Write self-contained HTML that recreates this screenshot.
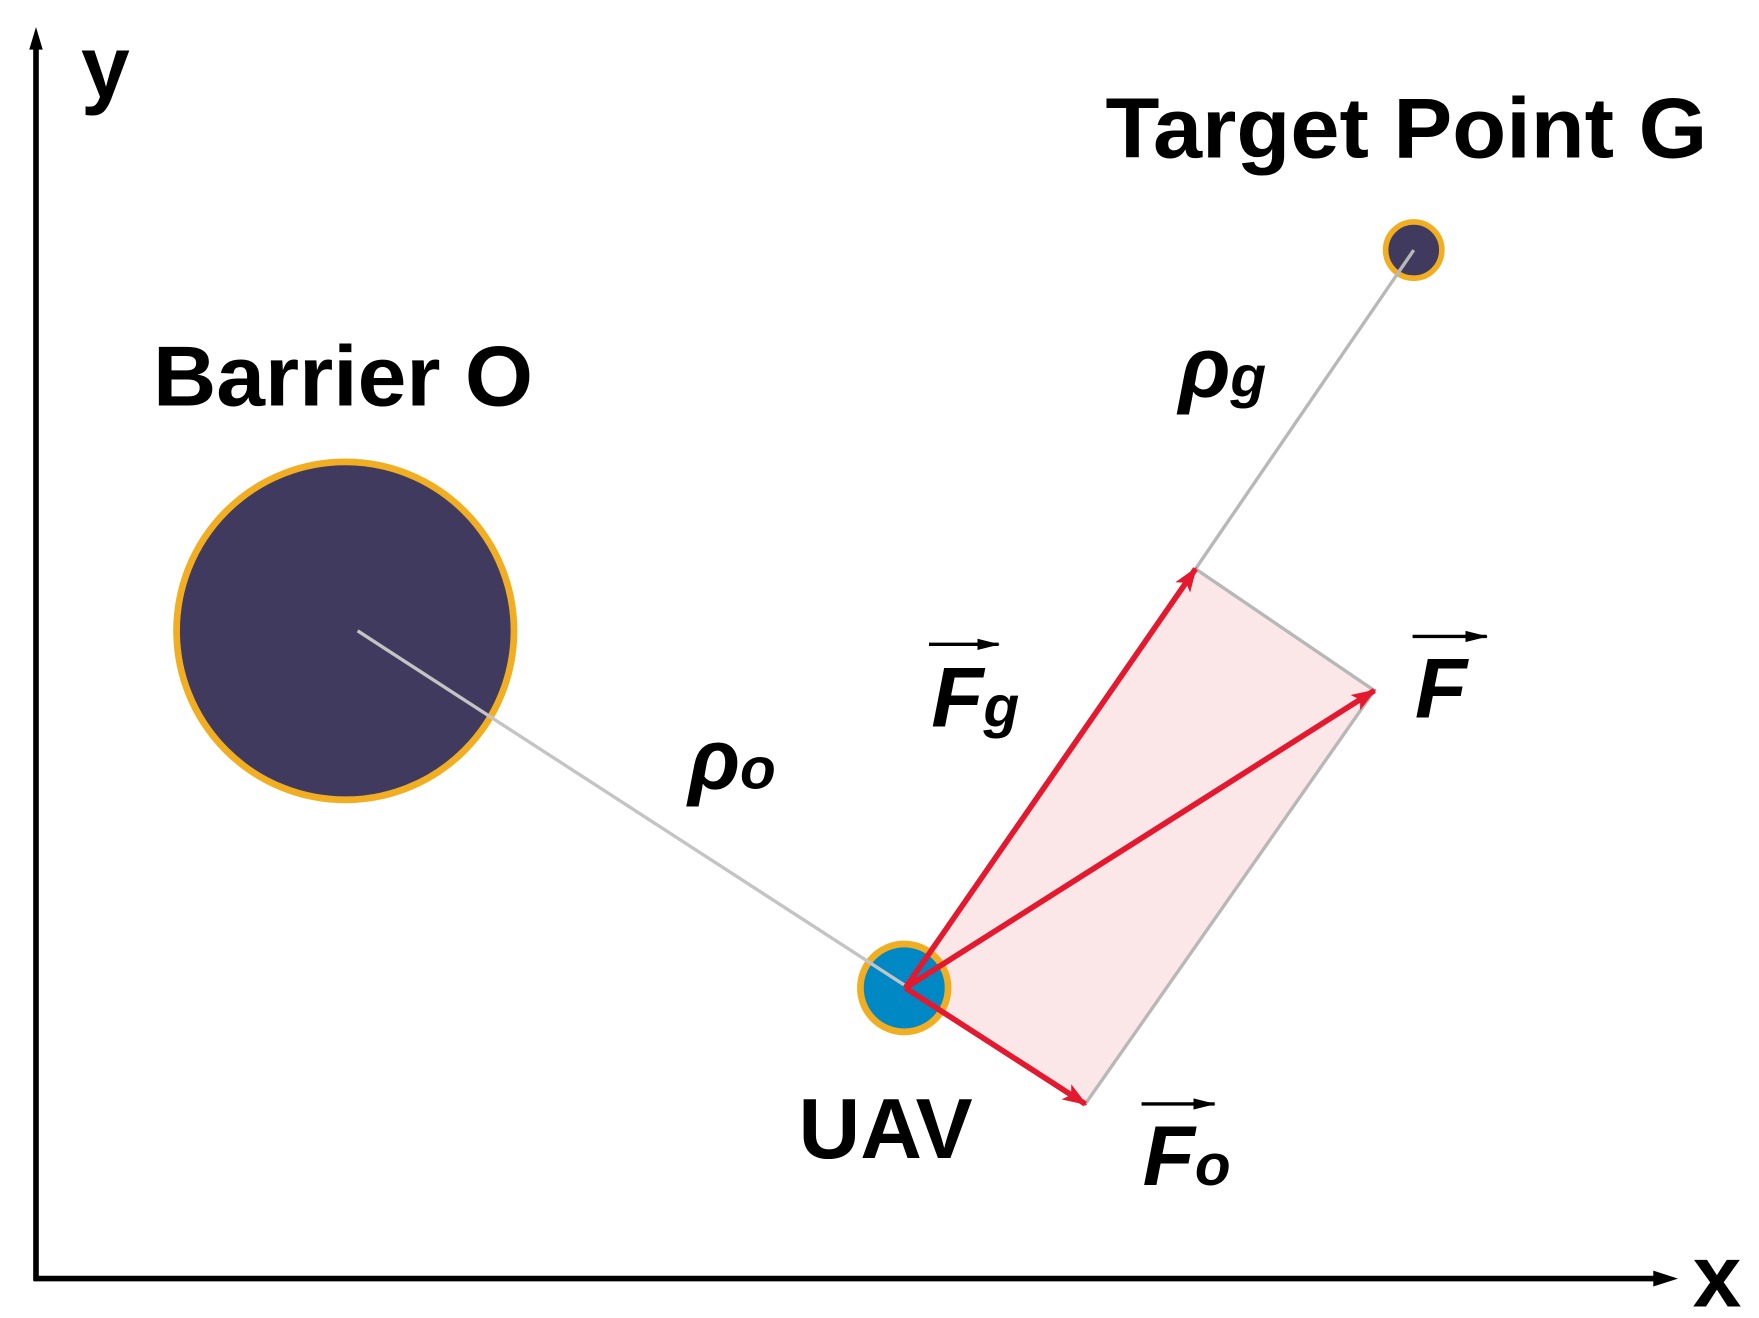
<!DOCTYPE html>
<html><head><style>html,body{margin:0;padding:0;background:#fff}svg{display:block}</style></head>
<body>
<svg width="1759" height="1318" viewBox="0 0 1564 1170" preserveAspectRatio="none" xmlns="http://www.w3.org/2000/svg">
<defs>
<marker id="ar" markerWidth="22" markerHeight="16" refX="20" refY="8" orient="auto" markerUnits="userSpaceOnUse"><path d="M0,0 L22,8 L0,16 L5,8 z" fill="#e3192f"/></marker>
<marker id="as" markerWidth="20" markerHeight="10" refX="19" refY="5" orient="auto" markerUnits="userSpaceOnUse"><path d="M0,0 L20,5 L0,10 z" fill="#000"/></marker>
</defs>
<g fill="#000" stroke="#000" stroke-width="5">
<line x1="32" y1="1137" x2="32" y2="40"/>
<path d="M32,24 L26,44 L38,44 z" stroke="none"/>
<line x1="30" y1="1135" x2="1475" y2="1135"/>
<path d="M1492,1135 L1470,1128 L1470,1142 z" stroke="none"/>
</g>
<g font-family="Liberation Sans, sans-serif" font-weight="bold" fill="#000">
<text x="72" y="86" font-size="78">y</text>
<text x="1505" y="1160" font-size="78">x</text>
<text x="983" y="140" font-size="76" textLength="535" lengthAdjust="spacingAndGlyphs">Target Point G</text>
<text x="136" y="360" font-size="76" textLength="338" lengthAdjust="spacingAndGlyphs">Barrier O</text>
<text x="710" y="1028" font-size="76">UAV</text>
</g>
<polygon points="805,877 1063,505 1222,613 965,980" fill="#fce7e8" stroke="#b8b8b8" stroke-width="3"/>
<circle cx="307" cy="560" r="150" fill="#403a5e" stroke="#f2ae22" stroke-width="6"/>
<circle cx="1257" cy="222" r="25" fill="#403a5e" stroke="#f2ae22" stroke-width="5"/>
<line x1="1257" y1="222" x2="1063" y2="505" stroke="#b8b8b8" stroke-width="3"/>
<circle cx="804" cy="877" r="39" fill="#0088c4" stroke="#f2ae22" stroke-width="6"/>
<line x1="318" y1="560" x2="805" y2="875" stroke="#c4c4c4" stroke-width="3"/>
<g stroke="#e3192f" stroke-width="5" fill="none">
<line x1="805" y1="877" x2="1063" y2="505" marker-end="url(#ar)"/>
<line x1="805" y1="877" x2="1222" y2="613" marker-end="url(#ar)"/>
<line x1="805" y1="877" x2="965" y2="980" marker-end="url(#ar)"/>
</g>
<g font-family="Liberation Sans, sans-serif" font-weight="bold" font-style="italic" fill="#000">
<text x="1048" y="352" font-size="76">ρ<tspan font-size="52">g</tspan></text>
<text x="612" y="700" font-size="76">ρ<tspan font-size="52">o</tspan></text>
<text x="828" y="645" font-size="76">F<tspan font-size="52">g</tspan></text>
<text x="1258" y="637" font-size="76">F</text>
<text x="1016" y="1052" font-size="76">F<tspan font-size="52">o</tspan></text>
</g>
<g stroke="#000" stroke-width="3">
<line x1="826" y1="572" x2="888" y2="572" marker-end="url(#as)"/>
<line x1="1256" y1="565" x2="1322" y2="565" marker-end="url(#as)"/>
<line x1="1015" y1="980" x2="1080" y2="980" marker-end="url(#as)"/>
</g>
</svg>
</body></html>
